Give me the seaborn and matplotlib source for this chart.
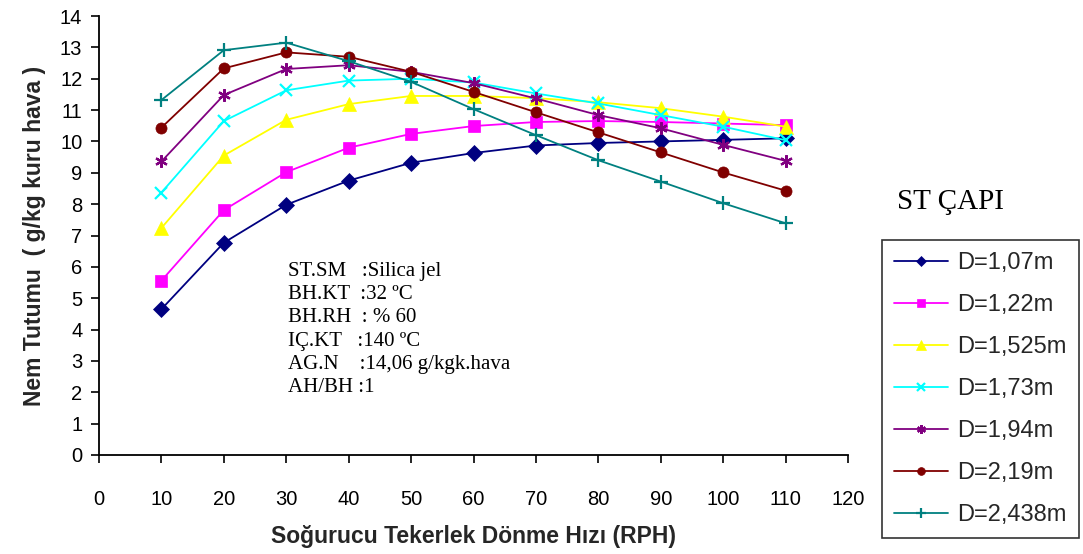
import matplotlib
matplotlib.use("Agg")
import matplotlib.pyplot as plt
from matplotlib import font_manager
import seaborn as sns
import pandas as pd

# Wheel rotation speed (RPH)
rph = [10, 20, 30, 40, 50, 60, 70, 80, 90, 100, 110]

# Moisture removal (g/kg dry air) per wheel diameter
d_107 = [4.65, 6.77, 7.98, 8.75, 9.32, 9.63, 9.87, 9.95, 10.0, 10.05, 10.1]
d_122 = [5.56, 7.81, 9.02, 9.80, 10.24, 10.49, 10.62, 10.65, 10.62, 10.57, 10.52]
d_1525 = [7.24, 9.55, 10.69, 11.19, 11.45, 11.45, 11.38, 11.25, 11.06, 10.79, 10.47]
d_173 = [8.37, 10.65, 11.63, 11.94, 12.0, 11.88, 11.53, 11.21, 10.84, 10.47, 10.04]
d_194 = [9.36, 11.48, 12.31, 12.43, 12.22, 11.86, 11.37, 10.84, 10.42, 9.89, 9.38]
d_219 = [10.44, 12.33, 12.84, 12.70, 12.22, 11.58, 10.93, 10.29, 9.65, 9.01, 8.43]
d_2438 = [11.32, 12.91, 13.15, 12.56, 11.90, 11.03, 10.20, 9.40, 8.72, 8.03, 7.39]

labels = ["D=1,07m", "D=1,22m", "D=1,525m", "D=1,73m", "D=1,94m", "D=2,19m", "D=2,438m"]
series = [d_107, d_122, d_1525, d_173, d_194, d_219, d_2438]

colors = ["#000080", "#FF00FF", "#FFFF00", "#00FFFF", "#800080", "#800000", "#008080"]
markers = ["D", "s", "^", "x", (6, 2, 0), "o", "+"]
msizes = [8, 9, 10, 8, 9, 8, 10]

info_lines = [
    "ST.SM   :Silica jel",
    "BH.KT  :32 \u00baC",
    "BH.RH  : % 60",
    "I\u00c7.KT   :140 \u00baC",
    "AG.N    :14,06 g/kgk.hava",
    "AH/BH :1",
]

df = pd.DataFrame(
    [(x, y, lab) for lab, ys in zip(labels, series) for x, y in zip(rph, ys)],
    columns=["rph", "nem", "cap"],
)

sns.set_style("ticks")

installed = {f.name for f in font_manager.fontManager.ttflist}
sans = "Liberation Sans Narrow" if "Liberation Sans Narrow" in installed else "Liberation Sans"
plt.rcParams["font.family"] = [sans, "DejaVu Sans"]

W, H = 1083, 554
fig = plt.figure(figsize=(W / 100, H / 100), dpi=100)
ax = fig.add_axes([99 / W, 1 - 455 / H, (848 - 99) / W, (455 - 16) / H])

for lab, col, mk, ms in zip(labels, colors, markers, msizes):
    sub = df[df["cap"] == lab]
    sns.lineplot(
        data=sub, x="rph", y="nem", ax=ax, color=col, marker=mk,
        markersize=ms, markeredgecolor=col, markerfacecolor=col,
        markeredgewidth=1.6 if mk in ("x", "+", (6, 2, 0)) else 0.5,
        linewidth=1.3, label=lab, legend="brief",
    )

ax.set_xlim(0, 120)
ax.set_ylim(0, 14)
ax.set_xticks(range(0, 121, 10))
ax.set_yticks(range(0, 15, 1))
for s in ["top", "right"]:
    ax.spines[s].set_visible(False)
for s in ["left", "bottom"]:
    ax.spines[s].set_color("black")
    ax.spines[s].set_linewidth(1.3)
ax.tick_params(axis="both", direction="out", length=6, width=1.2, color="black",
               labelsize=14.5, labelcolor="black")
ax.tick_params(axis="x", pad=19)
ax.tick_params(axis="y", pad=6)

ax.set_xlabel("So\u011furucu Tekerlek D\u00f6nme H\u0131z\u0131 (RPH)", fontsize=16.5,
              fontweight="bold", labelpad=12)
ax.set_ylabel("Nem Tutumu  ( g/kg kuru hava )", fontsize=16.5, fontweight="bold",
              labelpad=10)

ax.text(288 / W, 1 - 262 / H, "\n".join(info_lines), transform=fig.transFigure,
        family="Liberation Serif", fontsize=15, va="top", ha="left",
        linespacing=1.3, color="black")

fig.text(897 / W, 1 - 202 / H, "ST \u00c7API", family="Liberation Serif",
         fontsize=21, va="center", ha="left", color="black")

leg = ax.legend(loc="upper left", bbox_to_anchor=(882 / W, 1 - 240 / H),
                bbox_transform=fig.transFigure, frameon=True, fancybox=False,
                edgecolor="black", labelspacing=0.85,
                handlelength=2.3, handletextpad=0.4, borderpad=0.5,
                borderaxespad=0, markerscale=0.7,
                prop={"family": "Liberation Sans", "size": 17})
leg.get_frame().set_linewidth(1.2)

fig.savefig("out.png", dpi=100)
